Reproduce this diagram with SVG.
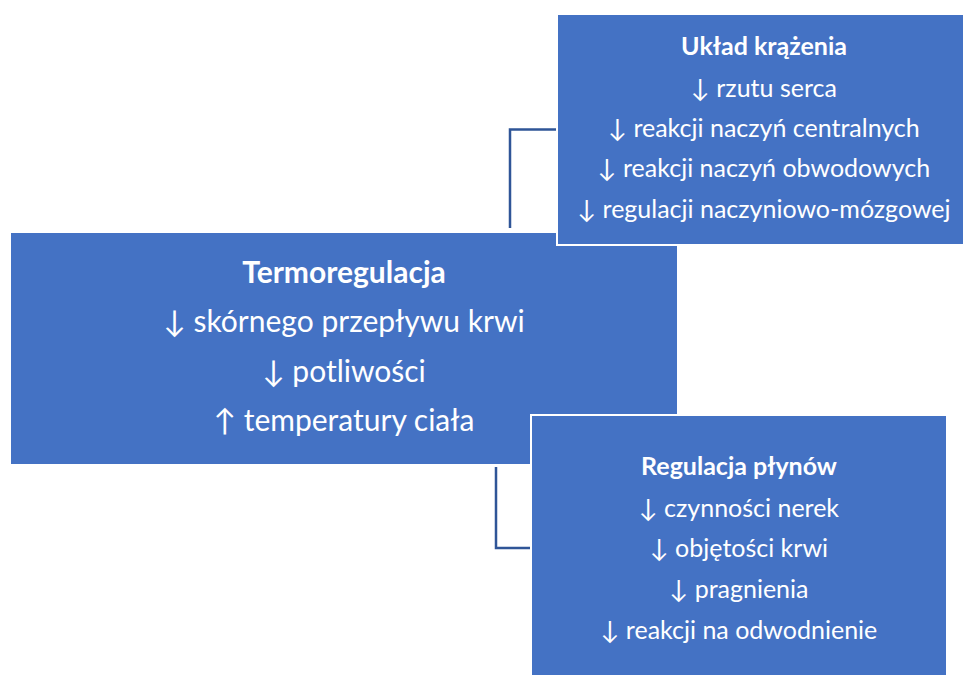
<svg xmlns="http://www.w3.org/2000/svg" width="963" height="675" viewBox="0 0 963 675">
<style>
.box{fill:#4472C4;stroke:#FFFFFF;stroke-width:2}
.t{font-family:Lato,"DejaVu Sans",sans-serif;fill:#FFFFFF;text-anchor:middle}
.s{font-size:25px}
.m{font-size:30px}
.b{font-weight:bold}
.conn{fill:none;stroke:#2F5597;stroke-width:2.5}
</style>
<rect width="963" height="675" fill="#FFFFFF"/>
<g id="connectors">
<path class="conn" d="M510 228 V129.5 H556"/>
<path class="conn" d="M496 467 V548 H531"/>
</g>
<g id="termoregulacja">
<rect class="box" x="10" y="232" width="668" height="233"/>
<text class="t m b" x="344" y="283">Termoregulacja</text>
<text class="t m" x="344" y="332">↓ skórnego przepływu krwi</text>
<text class="t m" x="344" y="382">↓ potliwości</text>
<text class="t m" x="344" y="431">↑ temperatury ciała</text>
</g>
<g id="uklad-krazenia">
<rect class="box" x="557" y="14" width="414" height="231"/>
<text class="t s b" x="764" y="55">Układ krążenia</text>
<text class="t s" x="764" y="97">↓ rzutu serca</text>
<text class="t s" x="764" y="137">↓ reakcji naczyń centralnych</text>
<text class="t s" x="764" y="177">↓ reakcji naczyń obwodowych</text>
<text class="t s" x="764" y="218">↓ regulacji naczyniowo-mózgowej</text>
</g>
<g id="regulacja-plynow">
<rect class="box" x="531" y="415" width="416" height="270"/>
<text class="t s b" x="739" y="475">Regulacja płynów</text>
<text class="t s" x="739" y="517">↓ czynności nerek</text>
<text class="t s" x="739" y="557">↓ objętości krwi</text>
<text class="t s" x="739" y="598">↓ pragnienia</text>
<text class="t s" x="739" y="639">↓ reakcji na odwodnienie</text>
</g>
</svg>
